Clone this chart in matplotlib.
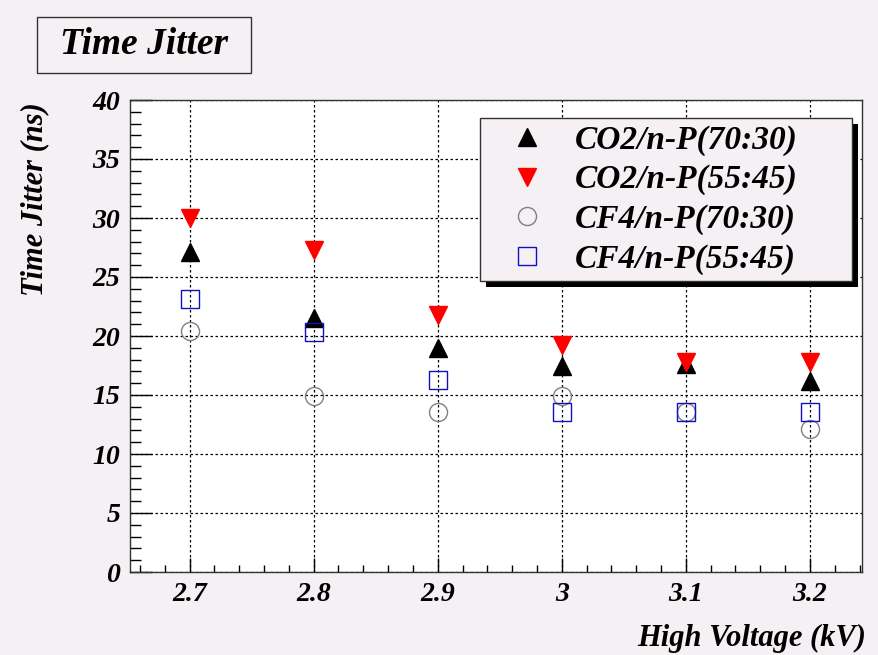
import matplotlib
matplotlib.use("Agg")
import matplotlib.pyplot as plt
from matplotlib.ticker import MultipleLocator, FixedLocator
from matplotlib.patches import Rectangle

voltage = [2.7, 2.8, 2.9, 3.0, 3.1, 3.2]
co2_70_30 = [27.1, 21.5, 19.0, 17.5, 17.6, 16.2]
co2_55_45 = [30.0, 27.3, 21.8, 19.2, 17.8, 17.8]
cf4_70_30 = [20.4, 14.9, 13.6, 14.9, 13.6, 12.1]
cf4_55_45 = [23.1, 20.3, 16.3, 13.6, 13.6, 13.6]
labels = ["CO2/n-P(70:30)", "CO2/n-P(55:45)", "CF4/n-P(70:30)", "CF4/n-P(55:45)"]
xtick_labels = ["2.7", "2.8", "2.9", "3", "3.1", "3.2"]

BG = "#f4f0f4"
FONT = "Liberation Serif"
plt.rcParams["font.family"] = [FONT, "DejaVu Serif"]

W, H = 879, 655
fig = plt.figure(figsize=(W / 100, H / 100), dpi=100, facecolor=BG)
ax = fig.add_axes([130 / W, 1 - 572 / H, (862 - 130) / W, (572 - 100) / H])
ax.set_facecolor("white")

ms = 13
ax.plot(voltage, co2_70_30, linestyle="none", marker="^", ms=ms, color="black", label=labels[0], zorder=5)
ax.plot(voltage, co2_55_45, linestyle="none", marker="v", ms=ms, color="#ff0000", label=labels[1], zorder=5)
ax.plot(voltage, cf4_70_30, linestyle="none", marker="o", ms=ms, mfc="none", mec="#808080", mew=1.0, label=labels[2], zorder=5)
ax.plot(voltage, cf4_55_45, linestyle="none", marker="s", ms=ms, mfc="none", mec="#1010c0", mew=1.0, label=labels[3], zorder=5)

ax.set_xlim(2.652, 3.242)
ax.set_ylim(0, 40)
ax.xaxis.set_major_locator(FixedLocator(voltage))
ax.set_xticklabels(xtick_labels)
ax.xaxis.set_minor_locator(MultipleLocator(0.02))
ax.yaxis.set_major_locator(MultipleLocator(5))
ax.yaxis.set_minor_locator(MultipleLocator(1))

tfont = dict(family=[FONT], weight="bold", style="italic")
for lab in ax.get_xticklabels() + ax.get_yticklabels():
    lab.set_fontfamily(FONT)
    lab.set_fontweight("bold")
    lab.set_fontstyle("italic")
    lab.set_fontsize(20)

ax.tick_params(axis="y", which="major", direction="in", length=15.8, width=1.0, pad=7, left=True, right=False)
ax.tick_params(axis="y", which="minor", direction="in", length=7.9, width=1.0, left=True, right=False)
ax.tick_params(axis="x", which="major", direction="in", length=10, width=1.0, pad=7, bottom=True, top=False)
ax.tick_params(axis="x", which="minor", direction="in", length=5, width=1.0, bottom=True, top=False)

ax.grid(True, which="major", color="black", linestyle=(0, (2, 2)), linewidth=0.9)
for s in ax.spines.values():
    s.set_linewidth(1.0)
    s.set_color("#333333")

fig.text(866 / W, 1 - 638 / H, "High Voltage (kV)", ha="right", va="center", fontsize=22, **tfont)
fig.text(35 / W, 1 - 199 / H, "Time Jitter (ns)", ha="center", va="center", rotation=90, fontsize=22, **tfont)

title_box = Rectangle((37 / W, 1 - 73 / H), (251 - 37) / W, (73 - 17) / H, transform=fig.transFigure,
                      facecolor=BG, edgecolor="#333333", linewidth=1.0)
fig.add_artist(title_box)
fig.text(144 / W, 1 - 44 / H, "Time Jitter", ha="center", va="center", fontsize=27, **tfont)

leg_top = 1 - (118 - 100) / 472
leg_h = 0.35
leg = ax.legend(loc="upper left",
                bbox_to_anchor=((480 - 130) / 732, leg_top - leg_h, (852 - 480) / 732, leg_h),
                mode="expand", borderaxespad=0,
                frameon=True, fancybox=False, facecolor=BG, framealpha=1, edgecolor="#333333",
                prop=dict(family=FONT, weight="bold", style="italic", size=24),
                handlelength=2.4, handletextpad=0.25, labelspacing=0.25, borderpad=0.2, markerscale=1.0)
leg.get_frame().set_linewidth(1.0)
leg.set_zorder(10)

fig.canvas.draw()
bb = leg.get_window_extent()
off = 6
shadow = Rectangle((bb.x0 + off, bb.y0 - off), bb.width, bb.height, transform=None,
                   facecolor="black", edgecolor="none", zorder=9)
ax.add_artist(shadow)
shadow.set_clip_on(False)

fig.savefig("out.png", dpi=100, facecolor=BG)
